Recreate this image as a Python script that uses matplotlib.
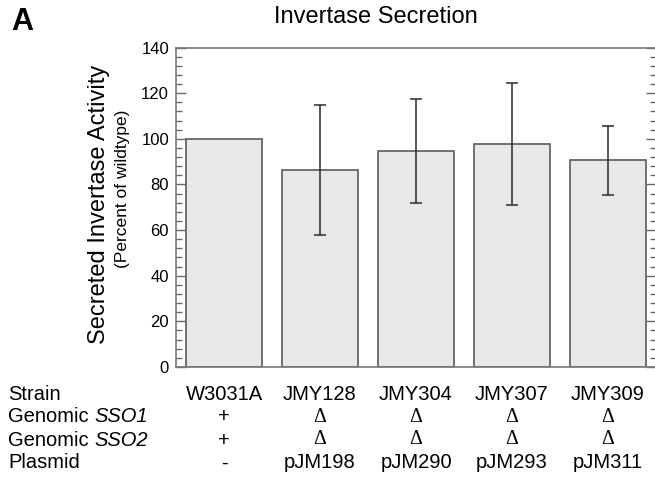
import matplotlib
matplotlib.use("Agg")
import matplotlib.pyplot as plt
import matplotlib.transforms as mtransforms
from matplotlib.ticker import MultipleLocator
import numpy as np

plt.rcParams['font.family'] = ['Liberation Sans', 'DejaVu Sans']

strains = ["W3031A", "JMY128", "JMY304", "JMY307", "JMY309"]
sso1 = ["+", "Δ", "Δ", "Δ", "Δ"]
sso2 = ["+", "Δ", "Δ", "Δ", "Δ"]
plasmids = ["-", "pJM198", "pJM290", "pJM293", "pJM311"]
activity = [100, 86.3, 94.7, 97.9, 90.6]
errors = [None, 28.3, 22.8, 26.7, 15.2]
yticks = [0, 20, 40, 60, 80, 100, 120, 140]

W, H = 655, 479
fig = plt.figure(figsize=(W / 100, H / 100), dpi=100)
ax = fig.add_axes([176 / W, 112 / H, 480 / W, 319.5 / H])

x = np.arange(len(strains))
ax.bar(x, activity, width=0.8, color="#e7e8e8", edgecolor="#5a5a5a", linewidth=1.2, zorder=2)
ex = [xi for xi, e in zip(x, errors) if e is not None]
ey = [a for a, e in zip(activity, errors) if e is not None]
ee = [e for e in errors if e is not None]
ax.errorbar(ex, ey, yerr=ee, fmt="none", ecolor="#2a2a2a", elinewidth=1.1,
            capsize=4.5, capthick=1.1, zorder=3)

ax.set_xlim(-0.5, 4.5)
ax.set_ylim(0, 140)
ax.set_yticks(yticks)
ax.yaxis.set_minor_locator(MultipleLocator(4))
ax.set_xticks([])
ax.tick_params(axis="y", which="major", direction="in", length=7, width=1.0,
               color="#666666", labelsize=12, right=True, pad=5)
ax.tick_params(axis="y", which="minor", direction="in", length=4, width=1.0,
               color="#666666", right=True)
for s in ax.spines.values():
    s.set_color("#777777")
    s.set_linewidth(1.2)

# y labels
fig.text(99 / W, 1 - 204 / H, "Secreted Invertase Activity", rotation=90,
         ha="center", va="center", fontsize=17)
fig.text(123 / W, 1 - 189 / H, "(Percent of wildtype)", rotation=90,
         ha="center", va="center", fontsize=12.5)

# title and panel letter
fig.text(376 / W, 1 - 17 / H, "Invertase Secretion", ha="center", va="center", fontsize=17)
fig.text(11 / W, 1 - 22 / H, "A", ha="left", va="center", fontsize=22, fontweight="bold")

# table below
trans = mtransforms.blended_transform_factory(ax.transData, fig.transFigure)
rows_y = [394, 417, 440, 463]
fs = 14.5
for yy, lab in zip(rows_y, ["Strain", None, None, "Plasmid"]):
    if lab:
        fig.text(8 / W, 1 - yy / H, lab, ha="left", va="center", fontsize=fs)
for yy, gene in zip(rows_y[1:3], ["SSO1", "SSO2"]):
    t = fig.text(8 / W, 1 - yy / H, "Genomic ", ha="left", va="center", fontsize=fs)
    ax.annotate(gene, xy=(1, 0), xycoords=t, ha="left", va="bottom",
                fontsize=fs, fontstyle="italic", annotation_clip=False)

for xi, s1, s2, s3, p in zip(x, strains, sso1, sso2, plasmids):
    fig.text(xi, 1 - rows_y[0] / H, s1, transform=trans, ha="center", va="center", fontsize=fs)
    fam = ["Liberation Serif", "DejaVu Serif"] if s2 == "Δ" else ["Liberation Sans"]
    fig.text(xi, 1 - rows_y[1] / H, s2, transform=trans, ha="center", va="center", fontsize=fs, family=fam)
    fig.text(xi, 1 - rows_y[2] / H, s3, transform=trans, ha="center", va="center", fontsize=fs, family=fam)
    fig.text(xi, 1 - rows_y[3] / H, p, transform=trans, ha="center", va="center", fontsize=fs)

fig.savefig("out.png", dpi=100)
